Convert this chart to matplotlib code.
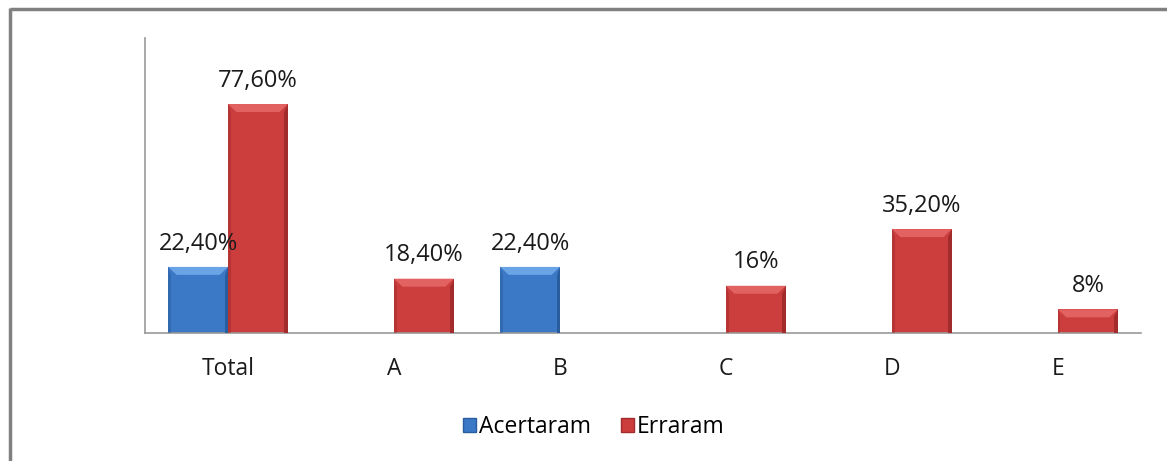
import numpy as np
import matplotlib
matplotlib.use("Agg")
import matplotlib.pyplot as plt
from matplotlib.patches import Polygon, Patch
from matplotlib.lines import Line2D

categories = ["Total", "A", "B", "C", "D", "E"]
acertaram = [22.4, np.nan, 22.4, np.nan, np.nan, np.nan]
erraram = [77.6, 18.4, np.nan, 16.0, 35.2, 8.0]

plt.rcParams['font.family'] = ['Open Sans', 'DejaVu Sans']


def fmt(v):
    if float(v).is_integer():
        return f"{int(v)}%"
    return f"{v:.2f}%".replace(".", ",")


def bevel(ax, bars, light, dark):
    """Fake the Excel bevel: lighter top strip, darker sides."""
    for b in bars:
        h = b.get_height()
        if np.isnan(h) or h == 0:
            continue
        x0 = b.get_x()
        w = b.get_width()
        dx = w * 0.14
        dy = 2.7
        ax.add_patch(Polygon([[x0, h], [x0 + w, h], [x0 + w - dx, h - dy], [x0 + dx, h - dy]],
                             closed=True, color=light, lw=0, zorder=3))
        ax.add_patch(Polygon([[x0 + w, h], [x0 + w, 0], [x0 + w - dx * 0.4, 0], [x0 + w - dx * 0.4, h - dy]],
                             closed=True, color=dark, lw=0, zorder=3))
        ax.add_patch(Polygon([[x0, h], [x0, 0], [x0 + dx * 0.3, 0], [x0 + dx * 0.3, h - dy]],
                             closed=True, color=dark, lw=0, alpha=0.5, zorder=3))


fig = plt.figure(figsize=(11.67, 4.61), dpi=100)
ax = fig.add_axes([0.1243, 0.2777, 0.8534, 0.6399])

x = np.arange(len(categories))
width = 0.36
blue = "#3b78c6"
red = "#cc3d3d"
bars1 = ax.bar(x - width / 2, acertaram, width, color=blue, zorder=2, label="Acertaram")
bars2 = ax.bar(x + width / 2, erraram, width, color=red, zorder=2, label="Erraram")
bevel(ax, bars1, "#6aa3e6", "#2a5d9e")
bevel(ax, bars2, "#e26262", "#a22c2c")

for bars, vals in ((bars1, acertaram), (bars2, erraram)):
    for b, v in zip(bars, vals):
        if np.isnan(v):
            continue
        ax.annotate(fmt(v), xy=(b.get_x() + b.get_width() / 2, v),
                    xytext=(0, 12.5), textcoords="offset points",
                    ha="center", va="baseline", fontsize=17, color="#1a1a1a")

ax.set_xlim(-0.5, len(categories) - 0.5)
ax.set_ylim(0, 100)
ax.set_xticks(x)
ax.set_xticklabels(categories, fontsize=16.5, color="#1a1a1a")
ax.tick_params(axis="x", length=0, pad=17.5)
ax.set_yticks([])
for s in ("top", "right"):
    ax.spines[s].set_visible(False)
ax.spines["left"].set_color("#999999")
ax.spines["bottom"].set_color("#999999")
ax.spines["left"].set_linewidth(1.2)
ax.spines["bottom"].set_linewidth(1.2)

handles = [Patch(facecolor=blue, edgecolor="#2a5d9e", label="Acertaram"),
           Patch(facecolor=red, edgecolor="#a22c2c", label="Erraram")]
fig.legend(handles=handles, loc="center", bbox_to_anchor=(0.509, 0.073), ncol=2,
           frameon=False, fontsize=16.5, handlelength=0.55, handleheight=0.55,
           handletextpad=0.15, columnspacing=1.3)

# outer chart border (top and left visible, cut off on right/bottom)
fig.add_artist(Line2D([9.5 / 1167, 1.0], [1 - 9.5 / 461] * 2, color="#808080", lw=2.5,
                      transform=fig.transFigure, solid_capstyle="butt"))
fig.add_artist(Line2D([9.5 / 1167] * 2, [0, 1 - 8.5 / 461], color="#808080", lw=2.5,
                      transform=fig.transFigure, solid_capstyle="butt"))

fig.savefig("out.png", dpi=100)
plt.close(fig)
